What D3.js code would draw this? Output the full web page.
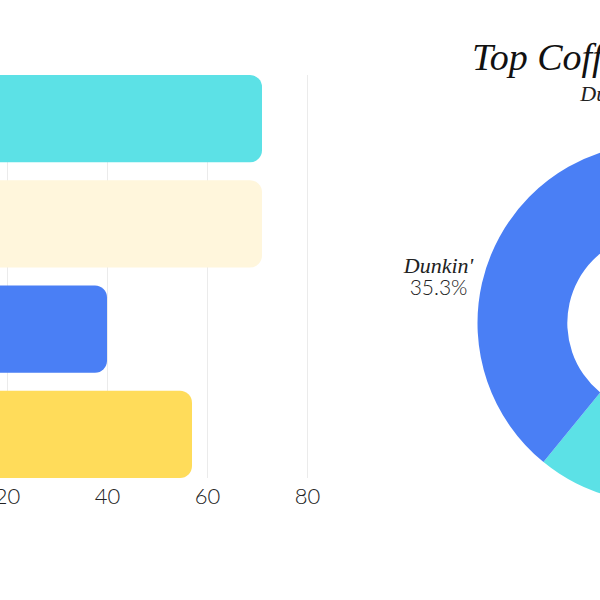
<!DOCTYPE html>
<html>
<head>
<meta charset="utf-8">
<script src="https://cdn.jsdelivr.net/npm/d3@7"></script>
<style>
    body { margin: 0; background: #fff; }
    svg { display: block; }
</style>
</head>
<body>
<div id="chart"></div>
<script>
// bar chart data
const barCategories = ["Tim Hortons", "Dutch Bros", "Dunkin'", "Starbucks"];
const barValues = [71, 71, 40, 57];
const barColors = ["#5ce1e6", "#fff6dc", "#4a7ff5", "#ffdc5a"];
const xTicks = [20, 40, 60, 80];

// donut data (percent)
const pieCategories = ["Starbucks", "Tim Hortons", "Dunkin'", "Dutch Bros"];
const pieValues = [33.4, 27.5, 35.3, 3.8];
const pieColors = ["#ffdc5a", "#5ce1e6", "#4a7ff5", "#fff6dc"];

const titleText = "Top Coffee Chains";
const scriptFont = "cursive";

const svg = d3.select("#chart")
    .append("svg")
    .attr("width", 600)
    .attr("height", 600);

// ---- bars ----
const plotTop = 75, plotBottom = 478;
const x = d3.scaleLinear().domain([0, 80]).range([-93, 307]);
const y = d3.scaleBand()
    .domain(barCategories)
    .range([plotTop, plotBottom])
    .paddingInner(0.17)
    .paddingOuter(0);

const axis = svg.append("g")
    .attr("transform", "translate(0," + plotBottom + ")")
    .call(d3.axisBottom(x)
        .tickValues(xTicks)
        .tickSize(-(plotBottom - plotTop))
        .tickPadding(10));
axis.select(".domain").remove();
axis.selectAll(".tick line")
    .attr("stroke", "#ebebeb")
    .attr("stroke-width", 1);
axis.selectAll(".tick text")
    .attr("font-family", "Lato, 'Open Sans', sans-serif")
    .attr("font-weight", 300)
    .attr("font-size", 22)
    .attr("fill", "#222");

svg.append("g")
    .selectAll("rect")
    .data(barValues)
    .join("rect")
    .attr("x", x(0) - 20)
    .attr("y", (d, i) => y(barCategories[i]))
    .attr("width", d => x(d) - x(0) + 20)
    .attr("height", y.bandwidth())
    .attr("rx", 12)
    .attr("fill", (d, i) => barColors[i]);

// ---- donut ----
const cx = 657, cy = 323;
const outerR = 179.5, innerR = 89.7;

const pie = d3.pie().sort(null).value(d => d);
const arcs = pie(pieValues);
const arc = d3.arc().innerRadius(innerR).outerRadius(outerR);
const labelArc = d3.arc().innerRadius(224).outerRadius(224);

const donut = svg.append("g")
    .attr("transform", "translate(" + cx + "," + cy + ")");

donut.selectAll("path")
    .data(arcs)
    .join("path")
    .attr("d", arc)
    .attr("fill", (d, i) => pieColors[i]);

const labels = donut.selectAll("text")
    .data(arcs)
    .join("text")
    .attr("text-anchor", "middle")
    .attr("fill", "#222")
    .attr("transform", d => "translate(" + labelArc.centroid(d) + ")");

labels.append("tspan")
    .attr("x", 0)
    .attr("y", 0)
    .attr("font-family", scriptFont)
    .attr("font-style", "italic")
    .attr("font-size", 22)
    .text((d, i) => pieCategories[i]);

labels.append("tspan")
    .attr("x", 0)
    .attr("y", 22)
    .attr("font-family", "Lato, 'Open Sans', sans-serif")
    .attr("font-weight", 300)
    .attr("font-size", 21)
    .text(d => d.data.toFixed(1) + "%");

// ---- title ----
svg.append("text")
    .attr("x", 472)
    .attr("y", 70)
    .attr("font-family", scriptFont)
    .attr("font-style", "italic")
    .attr("font-size", 38)
    .attr("fill", "#111")
    .text(titleText);
</script>
</body>
</html>
